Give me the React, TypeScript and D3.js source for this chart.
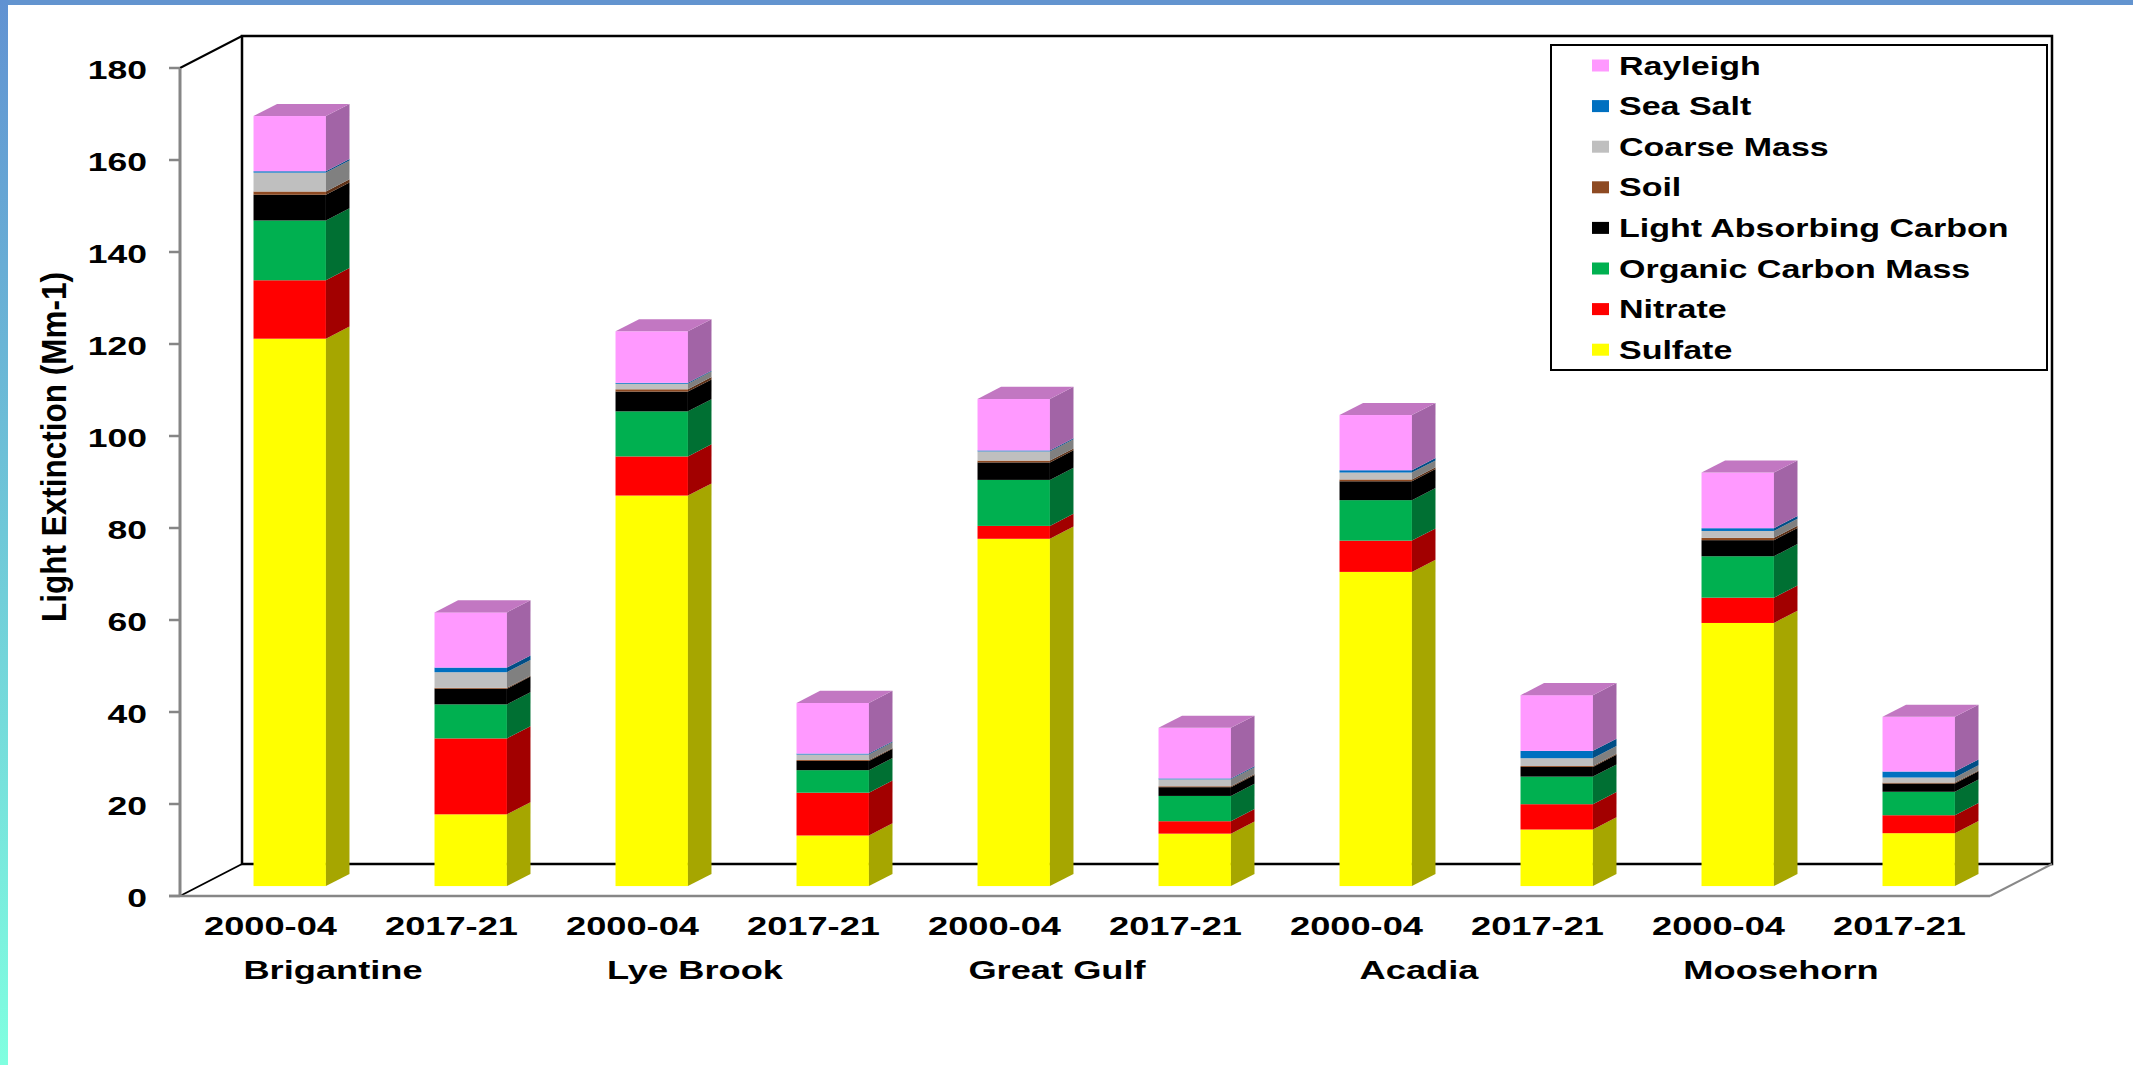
import React from 'react';
import * as d3 from 'd3';

// ---------- DATA ----------
const sites = ['Brigantine', 'Lye Brook', 'Great Gulf', 'Acadia', 'Moosehorn'];
const periods = ['2000-04', '2017-21'];
const yTicks = [0, 20, 40, 60, 80, 100, 120, 140, 160, 180];

// one value per bar: site x period, in order Brigantine 2000-04, Brigantine 2017-21, ...
const sulfate = [119.0, 15.6, 84.9, 11.0, 75.5, 11.4, 68.3, 12.3, 57.2, 11.5];
const nitrate = [12.7, 16.5, 8.5, 9.3, 2.8, 2.7, 6.8, 5.5, 5.5, 3.9];
const organicCarbonMass = [13.0, 7.4, 9.8, 4.9, 10.0, 5.5, 8.8, 6.0, 9.0, 5.1];
const lightAbsorbingCarbon = [5.6, 3.4, 4.3, 2.0, 3.8, 1.9, 4.1, 2.1, 3.5, 1.8];
const soil = [0.7, 0.2, 0.5, 0.2, 0.4, 0.2, 0.4, 0.2, 0.5, 0.2];
const coarseMass = [4.1, 3.4, 1.2, 1.2, 2.0, 1.5, 1.5, 1.7, 1.5, 1.1];
const seaSalt = [0.3, 1.0, 0.2, 0.2, 0.2, 0.2, 0.5, 1.6, 0.6, 1.3];
const rayleigh = [12.0, 12.0, 11.2, 11.0, 11.2, 11.0, 12.0, 12.1, 12.1, 11.9];

const seriesNames = [
  'Sulfate',
  'Nitrate',
  'Organic Carbon Mass',
  'Light Absorbing Carbon',
  'Soil',
  'Coarse Mass',
  'Sea Salt',
  'Rayleigh',
];
const seriesValues = [
  sulfate,
  nitrate,
  organicCarbonMass,
  lightAbsorbingCarbon,
  soil,
  coarseMass,
  seaSalt,
  rayleigh,
];

// ---------- STYLE ----------
const frontColors = ['#FFFF00', '#FF0000', '#00B050', '#000000', '#8E4A22', '#BFBFBF', '#0070C0', '#FF99FF'];
const sideColors = ['#A6A600', '#A20000', '#007033', '#000000', '#5E3117', '#808080', '#004E86', '#A264A6'];
const topColor = '#C277C2';

const W = 2133;
const H = 1065;
const FONT = '"Liberation Sans", Arial, Helvetica, sans-serif';

// plot frame
const FX0 = 180;
const FX1 = 1990;
const DX = 62; // depth offset of the back wall
const DY = 32;
const D0 = 0.31; // bar front depth fraction
const D1 = 0.69; // bar back depth fraction

const StretchText: React.FC<{
  x: number;
  y: number;
  sx: number;
  size: number;
  anchor?: string;
  weight?: string;
  children: React.ReactNode;
}> = ({ x, y, sx, size, anchor = 'start', weight = 'bold', children }) => (
  <g transform={`translate(${x},${y}) scale(${sx},1)`}>
    <text x={0} y={0} fontFamily={FONT} fontSize={size} fontWeight={weight} textAnchor={anchor} fill="#000">
      {children}
    </text>
  </g>
);

export default function App() {
  const ids = sites.flatMap((s) => periods.map((p) => `${s}|${p}`));
  const rows = ids.map((id, i) => {
    const r: Record<string, number | string> = { id };
    seriesNames.forEach((n, k) => (r[n] = seriesValues[k][i]));
    return r;
  });
  const stacked = d3.stack<any>().keys(seriesNames)(rows as any);

  const y = d3.scaleLinear().domain([0, 180]).range([896, 68]);
  const x = d3.scaleBand<string>().domain(ids).range([FX0, FX1]).paddingInner(0.6).paddingOuter(0.3);
  const step = x.step();
  const bw = x.bandwidth();

  const fdx = DX * D0;
  const fdy = -DY * D0;
  const sdx = DX * (D1 - D0);
  const sdy = -DY * (D1 - D0);

  const yBase = y(0);
  const yMax = y(180);

  const legendOrder = [...seriesNames.keys()].reverse();

  return (
    <svg
      width={W}
      height={H}
      viewBox={`0 0 ${W} ${H}`}
      style={{ position: 'absolute', left: 0, top: 0, display: 'block', background: '#fff' }}
    >
      <defs>
        <linearGradient id="leftStrip" x1="0" y1="0" x2="0" y2="1">
          <stop offset="0" stopColor="#6192D2" />
          <stop offset="0.5" stopColor="#6FC8D8" />
          <stop offset="1" stopColor="#80FFE0" />
        </linearGradient>
      </defs>
      <rect x={0} y={0} width={W} height={H} fill="#fff" />
      <rect x={0} y={0} width={W} height={5} fill="#6394CF" />
      <rect x={0} y={0} width={8} height={H} fill="url(#leftStrip)" />

      {/* back wall and floor */}
      <path
        d={`M${FX0 + DX},${yBase - DY} L${FX0 + DX},${yMax - DY} L${FX1 + DX},${yMax - DY} L${FX1 + DX},${yBase - DY} Z`}
        fill="#fff"
        stroke="#000"
        strokeWidth={2.5}
      />
      <line x1={FX0} y1={yMax} x2={FX0 + DX} y2={yMax - DY} stroke="#000" strokeWidth={2} />
      <line x1={FX0} y1={yBase} x2={FX0 + DX} y2={yBase - DY} stroke="#000" strokeWidth={1.8} />
      <line x1={FX1} y1={yBase} x2={FX1 + DX} y2={yBase - DY} stroke="#888" strokeWidth={2} />

      {/* bars */}
      {ids.map((id, i) => {
        const xf = (x(id) as number) + fdx;
        return (
          <g key={id}>
            {stacked.map((layer, k) => {
              const [v0, v1] = layer[i];
              if (v1 - v0 <= 0) return null;
              const yb = y(v0) + fdy;
              const yt = y(v1) + fdy;
              const isTop = k === stacked.length - 1;
              return (
                <g key={k}>
                  <rect x={xf} y={yt} width={bw} height={yb - yt} fill={frontColors[k]} />
                  <path
                    d={`M${xf + bw},${yt} L${xf + bw + sdx},${yt + sdy} L${xf + bw + sdx},${yb + sdy} L${xf + bw},${yb} Z`}
                    fill={sideColors[k]}
                  />
                  {isTop && (
                    <path
                      d={`M${xf},${yt} L${xf + bw},${yt} L${xf + bw + sdx},${yt + sdy} L${xf + sdx},${yt + sdy} Z`}
                      fill={topColor}
                    />
                  )}
                </g>
              );
            })}
          </g>
        );
      })}

      {/* y axis */}
      <line x1={FX0} y1={yMax} x2={FX0} y2={yBase} stroke="#868686" strokeWidth={3} />
      <line x1={FX0 - 11} y1={yBase} x2={FX1} y2={yBase} stroke="#868686" strokeWidth={2.5} />
      {yTicks.map((t) => (
        <g key={t}>
          <line x1={FX0 - 11} y1={y(t)} x2={FX0} y2={y(t)} stroke="#868686" strokeWidth={2.5} />
          <StretchText x={147} y={y(t) + 11} sx={1.42} size={25} anchor="end">
            {t}
          </StretchText>
        </g>
      ))}

      {/* y title */}
      <g transform={`translate(66,622) scale(1.1,1) rotate(-90)`}>
        <text x={0} y={0} fontFamily={FONT} fontSize={31.5} fontWeight="bold" textAnchor="start" fill="#000">
          Light Extinction (Mm-1)
        </text>
      </g>

      {/* category labels */}
      {ids.map((id, i) => (
        <StretchText key={id} x={FX0 + step * (i + 0.5)} y={935} sx={1.45} size={25} anchor="middle">
          {periods[i % periods.length]}
        </StretchText>
      ))}
      {sites.map((s, j) => (
        <StretchText key={s} x={FX0 + step * (2 * j + 1) - 28} y={979} sx={1.45} size={25} anchor="middle">
          {s}
        </StretchText>
      ))}

      {/* legend */}
      <rect x={1551} y={45} width={496} height={325} fill="#fff" stroke="#000" strokeWidth={2} />
      {legendOrder.map((k, r) => {
        const cy = 65.5 + r * 40.6;
        return (
          <g key={k}>
            <rect x={1592} y={cy - 6} width={17} height={12} fill={frontColors[k]} />
            <StretchText x={1619} y={cy + 9.1} sx={1.36} size={25}>
              {seriesNames[k]}
            </StretchText>
          </g>
        );
      })}
    </svg>
  );
}
